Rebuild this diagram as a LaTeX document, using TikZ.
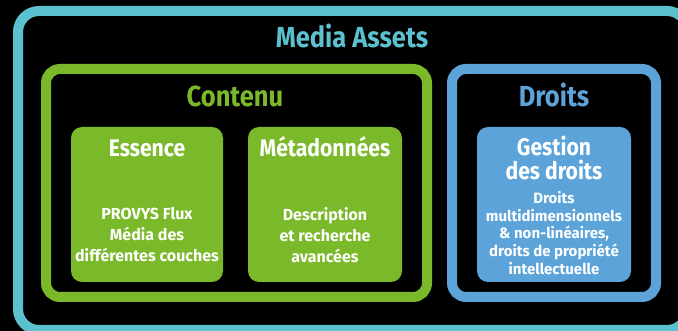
\documentclass[tikz,border=0pt]{standalone}
\usepackage{fontspec}
\setmainfont{Fira Sans}
\newfontfamily\condf[FakeStretch=0.88]{Fira Sans}
\definecolor{cyanf}{RGB}{91,193,207}
\definecolor{greenf}{RGB}{122,185,41}
\definecolor{bluef}{RGB}{91,163,216}
\begin{document}
\begin{tikzpicture}[x=1pt,y=-1pt,
  frame/.style={draw=#1, line width=10pt, rounded corners=14pt, inner sep=0pt, fill=black},
  card/.style={fill=#1, rounded corners=11pt, inner sep=0pt},
  bigtitle/.style={text=#1, font=\condf\fontsize{29}{32}\selectfont\bfseries, anchor=base, inner sep=0pt},
  cardtitle/.style={text=white, font=\condf\fontsize{24}{24}\selectfont\bfseries, anchor=base, inner sep=0pt, align=center},
  body/.style={text=white, font=\fontsize{16}{21}\selectfont\bfseries, anchor=north, inner sep=0pt, align=center},
  smallbody/.style={text=white, font=\fontsize{15}{17.7}\selectfont\bfseries, anchor=north, inner sep=0pt, align=center}]
\useasboundingbox (0,0) rectangle (678,331);
\fill[black] (0,0) rectangle (678,331);
\clip (0,0) rectangle (678,331);
% frames
\node[frame=cyanf, rounded corners=21pt, minimum width=670pt, minimum height=319pt] (outer) at (353,170.5) {};
\node[frame=greenf, minimum width=381pt, minimum height=228pt] (contenu) at (236.5,183) {};
\node[frame=bluef, minimum width=204pt, minimum height=228pt] (droits) at (554,183) {};
% cards
\node[card=greenf, minimum width=152pt, minimum height=155pt] (essence) at (147,204.5) {};
\node[card=greenf, minimum width=154pt, minimum height=155pt] (meta) at (325,204.5) {};
\node[card=bluef, minimum width=154pt, minimum height=155pt] (gestion) at (554,204.5) {};
% titles
\node[bigtitle=cyanf] (tMedia) at (352,48) {Media Assets};
\node[bigtitle=greenf] (tContenu) at (235,107) {Contenu};
\node[bigtitle=bluef] (tDroits) at (554,107) {Droits};
\node[cardtitle] (tEssence) at (147,157) {Essence};
\node[cardtitle] (tMeta) at (325,157) {Métadonnées};
\node[cardtitle, anchor=north] (tGestion) at (554,136) {Gestion\\des droits};
% bodies
\node[body] (bEssence) at (147,207) {PROVYS Flux\\Média des\\différentes couches};
\node[body] (bMeta) at (325,207) {Description\\et recherche\\avancées};
\node[smallbody] (bGestion) at (554,191) {Droits\\multidimensionnels\\\& non-linéaires,\\droits de propriété\\intellectuelle};
\end{tikzpicture}
\end{document}
